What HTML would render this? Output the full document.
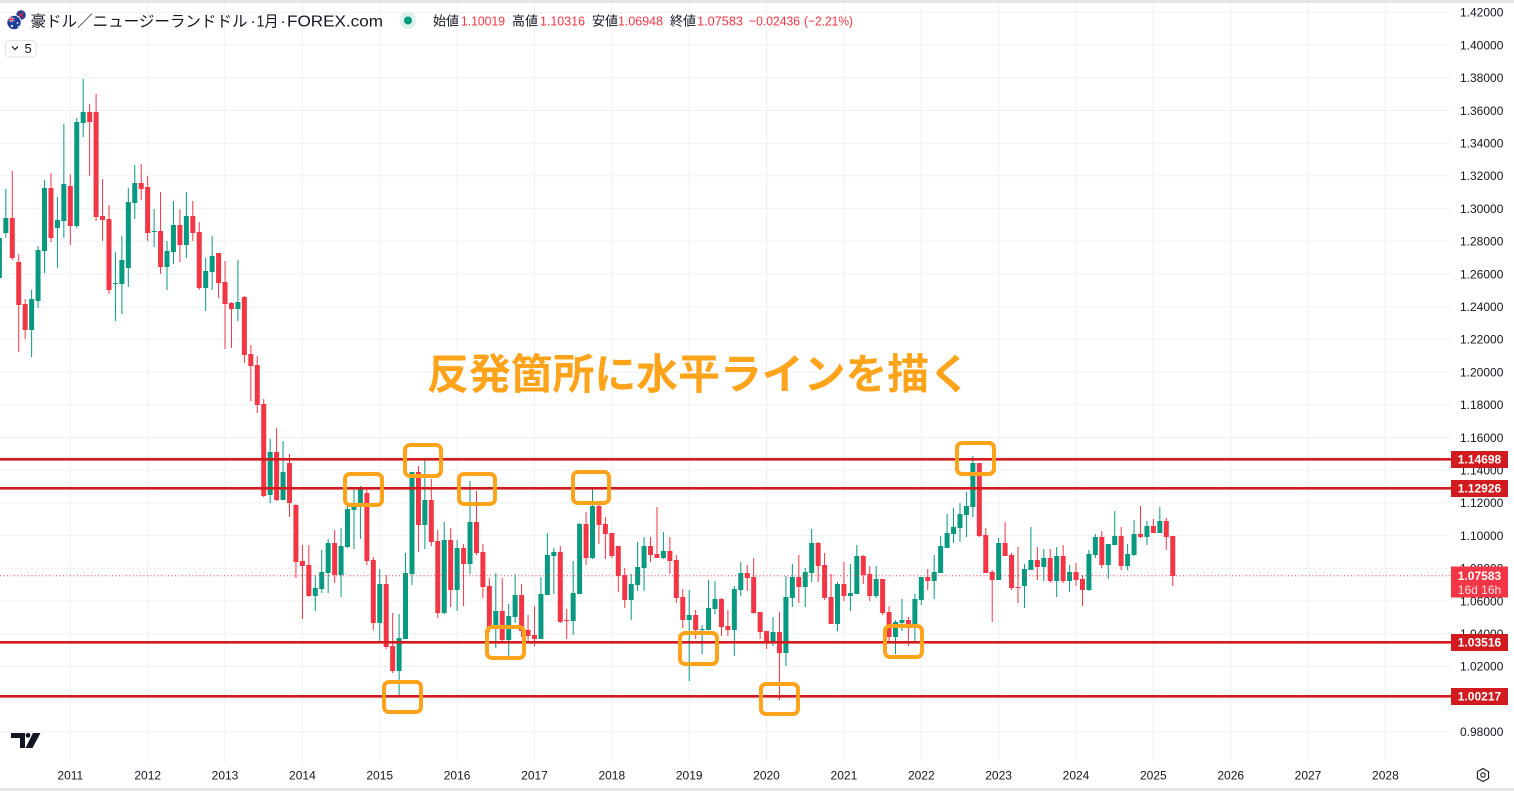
<!DOCTYPE html>
<html><head><meta charset="utf-8">
<style>
html,body{margin:0;padding:0;background:#fff;}
body{width:1514px;height:791px;overflow:hidden;position:relative;}
svg{position:absolute;left:0;top:0;}
</style></head>
<body>
<svg id="c" width="1514" height="791" viewBox="0 0 1514 791" xmlns="http://www.w3.org/2000/svg" font-family="'Liberation Sans','Noto Sans CJK JP',sans-serif">
<rect x="0" y="0" width="1514" height="791" fill="#ffffff"/>
<rect x="0" y="0" width="1514" height="3" fill="#e3e5ea"/>
<rect x="0" y="788" width="1514" height="3" fill="#e3e5ea"/>
<g id="grid" stroke="#eef0f3" stroke-width="1"></g>
<g id="candles"></g>
<line x1="0" y1="575.7" x2="1451" y2="575.7" stroke="#f23645" stroke-width="1" stroke-dasharray="1 2.5"/>
<g stroke="#d11b1f" stroke-width="2.6">
<line x1="0" y1="459.3" x2="1451" y2="459.3"/>
<line x1="0" y1="488.3" x2="1451" y2="488.3"/>
<line x1="0" y1="642.3" x2="1451" y2="642.3"/>
<line x1="0" y1="696.3" x2="1451" y2="696.3"/>
</g>
<g fill="none" stroke="#ffa31a" stroke-width="4">
<rect x="345" y="474" width="37" height="31" rx="5"/>
<rect x="405" y="445" width="36" height="31" rx="5"/>
<rect x="459" y="474" width="36" height="30" rx="5"/>
<rect x="573" y="472" width="36" height="31" rx="5"/>
<rect x="957" y="443" width="37" height="31" rx="5"/>
<rect x="487" y="627" width="37" height="31" rx="5"/>
<rect x="680" y="633" width="37" height="31" rx="5"/>
<rect x="885" y="626" width="37" height="31" rx="5"/>
<rect x="384" y="682" width="37" height="30" rx="5"/>
<rect x="761" y="684" width="37" height="30" rx="5"/>
</g>
<text x="427" y="389" font-size="42" font-weight="bold" fill="#ffa31a" font-family="'Liberation Sans','Noto Sans CJK JP',sans-serif" textLength="544" lengthAdjust="spacing">反発箇所に水平ラインを描く</text>

<g id="axis" font-size="12" fill="#131722"></g>

<g font-size="12" fill="#131722" text-anchor="middle">
<text x="70.3" y="779.5">2011</text>
<text x="147.7" y="779.5">2012</text>
<text x="225" y="779.5">2013</text>
<text x="302.4" y="779.5">2014</text>
<text x="379.7" y="779.5">2015</text>
<text x="457.1" y="779.5">2016</text>
<text x="534.5" y="779.5">2017</text>
<text x="611.8" y="779.5">2018</text>
<text x="689.2" y="779.5">2019</text>
<text x="766.5" y="779.5">2020</text>
<text x="843.9" y="779.5">2021</text>
<text x="921.3" y="779.5">2022</text>
<text x="998.6" y="779.5">2023</text>
<text x="1076" y="779.5">2024</text>
<text x="1153.3" y="779.5">2025</text>
<text x="1230.7" y="779.5">2026</text>
<text x="1308" y="779.5">2027</text>
<text x="1385.4" y="779.5">2028</text>
</g>

<!-- level labels -->
<g font-size="12" font-weight="bold" fill="#ffffff" text-anchor="middle">
<rect x="1451" y="451" width="57" height="17" fill="#d11b1f"/>
<text x="1479.5" y="463.5">1.14698</text>
<rect x="1451" y="480" width="57" height="17" fill="#d11b1f"/>
<text x="1479.5" y="492.5">1.12926</text>
<rect x="1451" y="634" width="57" height="17" fill="#d11b1f"/>
<text x="1479.5" y="646.5">1.03516</text>
<rect x="1451" y="688" width="57" height="17" fill="#d11b1f"/>
<text x="1479.5" y="700.5">1.00217</text>
<rect x="1451" y="566.5" width="57" height="31" fill="#f23645"/>
<text x="1479.5" y="580">1.07583</text>
<text x="1479.5" y="594" font-weight="normal" fill="#ffe3e6">16d 16h</text>
</g>

<!-- header -->
<circle cx="21" cy="15" r="4.8" fill="#1d3b8f"/>
<path d="M18.5 12.5 L23.5 17.5 M23.5 12.5 L18.5 17.5" stroke="#e8283a" stroke-width="1"/>
<circle cx="14" cy="22.5" r="7.2" fill="#1f3f99" stroke="#ffffff" stroke-width="1"/>
<path d="M8.5 19.5 H14.5 M11.5 16.8 V22.3" stroke="#ffffff" stroke-width="2"/>
<path d="M8.5 19.5 H14.5 M11.5 16.8 V22.3" stroke="#e8283a" stroke-width="0.9"/>
<circle cx="12" cy="26" r="1.1" fill="#fff"/>
<circle cx="17.5" cy="23" r="0.9" fill="#fff"/>
<circle cx="18.5" cy="26.5" r="0.8" fill="#fff"/>

<g fill="#131722">
<text x="30.5" y="26.3" font-size="15.5" textLength="217" lengthAdjust="spacingAndGlyphs">豪ドル／ニュージーランドドル</text>
<text x="250.5" y="26.3" font-size="15.5">·</text>
<text x="256.5" y="26.3" font-size="15.5" textLength="22" lengthAdjust="spacingAndGlyphs">1月</text>
<text x="280.5" y="26.3" font-size="15.5">·</text>
<text x="287" y="26.5" font-size="16" textLength="96" lengthAdjust="spacingAndGlyphs">FOREX.com</text>
</g>
<circle cx="408" cy="20.5" r="8.5" fill="#089981" fill-opacity="0.13"/>
<circle cx="408" cy="20.5" r="4" fill="#089981"/>
<g font-size="13">
<text x="433" y="25.5" fill="#131722" textLength="26">始値</text>
<text x="461" y="25.5" fill="#f23645" textLength="44" lengthAdjust="spacingAndGlyphs">1.10019</text>
<text x="512" y="25.5" fill="#131722" textLength="26">高値</text>
<text x="540" y="25.5" fill="#f23645" textLength="45" lengthAdjust="spacingAndGlyphs">1.10316</text>
<text x="592" y="25.5" fill="#131722" textLength="26">安値</text>
<text x="618" y="25.5" fill="#f23645" textLength="45" lengthAdjust="spacingAndGlyphs">1.06948</text>
<text x="670" y="25.5" fill="#131722" textLength="26">終値</text>
<text x="697" y="25.5" fill="#f23645" textLength="46" lengthAdjust="spacingAndGlyphs">1.07583</text>
<text x="749" y="25.5" fill="#f23645" textLength="51" lengthAdjust="spacingAndGlyphs">−0.02436</text>
<text x="804" y="25.5" fill="#f23645" textLength="49" lengthAdjust="spacingAndGlyphs">(−2.21%)</text>
</g>
<rect x="5.5" y="40.5" width="30.5" height="16.5" rx="4" fill="#fff" stroke="#e0e3eb" stroke-width="1"/>
<polyline points="12,46.5 15,49.5 18,46.5" fill="none" stroke="#131722" stroke-width="1.2"/>
<text x="24.5" y="53" font-size="13" fill="#131722">5</text>

<!-- TV logo -->
<path d="M11 733 H25 V748 H20 V738 H11 Z" fill="#131722"/>
<circle cx="28" cy="735.3" r="2.4" fill="#131722"/>
<path d="M33 733 H40.5 L32.5 748 H25.5 Z" fill="#131722"/>

<!-- settings icon -->
<polygon points="1483,768.5 1488.6,771.7 1488.6,778.3 1483,781.5 1477.4,778.3 1477.4,771.7" fill="none" stroke="#131722" stroke-width="1.1"/>
<circle cx="1483" cy="775" r="2.2" fill="none" stroke="#131722" stroke-width="1.1"/>
</svg>
<script>
(function(){
var NS="http://www.w3.org/2000/svg";
var grid=document.getElementById('grid');
function ln(p,x1,y1,x2,y2){var l=document.createElementNS(NS,'line');l.setAttribute('x1',x1);l.setAttribute('y1',y1);l.setAttribute('x2',x2);l.setAttribute('y2',y2);p.appendChild(l);}
function Y(p){return 12.4+(1.42-p)*1635;}
for(var k=0;k<=22;k++){var p=1.42-0.02*k;var y=Y(p);ln(grid,0,y,1451,y);}
for(var k=0;k<18;k++){var x=70.3+77.36*k;ln(grid,x,3,x,762);}
var ax=document.getElementById('axis');
for(var k=0;k<=22;k++){var p=1.42-0.02*k;var t=document.createElementNS(NS,'text');t.setAttribute('x',1460);t.setAttribute('y',(Y(p)+4.3).toFixed(1));t.textContent=p.toFixed(5);ax.appendChild(t);}
var D=[
[-11,1,238,278,230,285],[-10,1,218,233,189,238],[-9,0,218,258,171,260],[-8,0,262,305,254,352],[-7,0,304,330,299,339],[-6,1,299,330,290,357],[-5,1,250,301,246,308],[-4,1,188,251,180,273],[-3,0,188,238,173,242],[-2,1,220,228,197,268],[-1,1,184,221,124,238],
[0,0,186,226,174,245],[1,1,122,226,118,228],[2,1,112,123,79,137],[3,0,112,122,104,176],[4,0,112,217,94,221],[5,0,216,220,179,241],[6,0,219,290,205,294],[7,1,283,284,252,321],[8,1,260,284,236,314],[9,1,202,268,188,287],[10,1,183,203,165,219],[11,0,183,189,164,200],
[12,0,187,233,176,241],[13,1,231,232,209,247],[14,0,231,267,192,274],[15,1,251,267,241,290],[16,1,225,252,201,264],[17,0,225,245,209,262],[18,1,216,245,192,258],[19,0,216,233,201,241],[20,0,232,288,222,290],[21,1,271,288,258,311],[22,1,256,272,236,290],[23,0,253,283,253,298],
[24,0,282,304,261,349],[25,0,303,309,302,348],[26,1,302,309,260,321],[27,0,297,355,296,363],[28,0,354,366,345,401],[29,0,365,405,356,413],[30,0,404,496,399,497],[31,1,452,495,439,503],[32,0,452,500,428,501],[33,1,472,500,441,500],[34,0,463,503,454,517],[35,0,505,562,504,578],
[36,0,561,566,545,619],[37,0,565,596,545,597],[38,1,588,596,575,611],[39,1,572,589,550,593],[40,1,543,573,539,593],[41,0,543,575,530,583],[42,1,546,575,528,597],[43,1,509,547,503,548],[44,1,503,510,487,549],[45,1,488,504,486,539],[46,0,493,561,489,565],[47,0,560,623,557,630],
[48,1,584,623,569,642],[49,0,584,647,575,649],[50,0,646,671,613,673],[51,1,638,671,614,696],[52,1,573,639,553,639],[53,1,472,574,472,585],[54,0,472,525,466,552],[55,1,500,525,458,549],[56,0,500,542,479,546],[57,0,541,613,530,618],[58,1,540,613,522,614],[59,0,540,590,528,607],
[60,1,548,590,540,611],[61,0,548,564,544,606],[62,1,522,564,481,574],[63,0,522,553,491,555],[64,0,552,587,544,598],[65,0,586,627,578,632],[66,1,611,627,573,648],[67,0,611,640,578,642],[68,1,616,640,604,657],[69,1,595,617,574,623],[70,0,595,631,584,637],[71,0,630,636,615,641],
[72,0,635,639,606,646],[73,1,594,639,577,639],[74,1,555,595,533,595],[75,1,552,556,548,594],[76,0,552,622,546,623],[77,0,620,621,609,639],[78,1,593,621,561,635],[79,1,524,594,523,594],[80,0,524,558,512,565],[81,1,506,558,488,559],[82,0,506,525,503,544],[83,0,524,534,517,559],
[84,0,533,556,533,558],[85,0,546,576,546,592],[86,0,575,600,568,608],[87,1,584,600,574,620],[88,1,567,585,542,591],[89,1,546,568,537,591],[90,0,546,555,537,562],[91,0,554,558,507,558],[92,1,551,558,532,559],[93,0,551,561,537,574],[94,0,560,598,555,603],[95,0,597,620,589,628],
[96,1,615,620,590,681],[97,0,615,630,610,639],[98,1,629,630,625,654],[99,1,608,630,580,630],[100,1,599,609,581,614],[101,0,599,627,598,636],[102,0,626,630,610,636],[103,1,589,630,586,656],[104,1,573,590,562,596],[105,0,573,578,565,591],[106,0,577,613,558,614],[107,0,612,632,612,639],
[108,0,631,642,631,649],[109,1,632,643,617,646],[110,0,632,653,612,700],[111,1,597,653,576,666],[112,1,577,598,564,607],[113,0,577,587,555,603],[114,1,572,587,568,607],[115,1,543,573,529,582],[116,0,543,566,542,582],[117,0,565,598,553,600],[118,0,597,624,574,624],[119,1,584,624,582,631],
[120,0,584,596,562,601],[121,1,593,596,564,611],[122,1,556,594,545,594],[123,0,556,575,555,584],[124,0,574,596,566,601],[125,1,579,596,566,598],[126,0,579,613,579,615],[127,0,612,637,606,643],[128,1,622,637,620,654],[129,1,620,623,599,631],[130,0,620,627,617,646],[131,1,599,627,594,642],
[132,1,577,600,577,605],[133,0,577,581,569,590],[134,1,572,581,555,599],[135,1,546,573,536,573],[136,1,533,548,514,548],[137,1,527,534,508,543],[138,1,514,528,503,542],[139,1,506,515,492,537],[140,1,463,507,456,517],[141,0,463,536,463,537],[142,0,535,573,528,573],[143,0,572,580,570,622],
[144,1,543,580,538,580],[145,0,543,556,522,556],[146,0,555,588,553,590],[147,0,587,588,547,603],[148,1,569,586,564,608],[149,1,560,570,527,570],[150,0,560,567,547,580],[151,1,558,567,549,581],[152,0,558,581,549,583],[153,1,556,581,547,597],[154,0,556,581,545,583],[155,1,572,581,565,592],
[156,0,572,580,563,586],[157,0,579,590,575,606],[158,1,554,590,550,591],[159,1,537,555,534,558],[160,0,537,565,531,568],[161,1,544,565,544,579],[162,1,536,545,511,545],[163,0,536,566,527,570],[164,1,554,566,544,570],[165,1,534,555,520,556],[166,0,534,537,506,538],[167,1,526,537,521,545],
[168,0,526,533,519,533],[169,1,521,533,507,533],[170,0,521,537,518,550],[171,0,536,576,536,586]
];
var g=document.getElementById('candles');
D.forEach(function(d){
 var x=70.3+d[0]*6.447;var col=d[1]?'#089981':'#f23645';
 var w=document.createElementNS(NS,'rect');
 w.setAttribute('x',(x-0.5).toFixed(2));w.setAttribute('y',d[4]);w.setAttribute('width',1);w.setAttribute('height',Math.max(1,d[5]-d[4]));w.setAttribute('fill',col);g.appendChild(w);
 var b=document.createElementNS(NS,'rect');
 b.setAttribute('x',(x-2.5).toFixed(2));b.setAttribute('y',d[2]);b.setAttribute('width',5);b.setAttribute('height',Math.max(1,d[3]-d[2]));b.setAttribute('fill',col);g.appendChild(b);
});
})();
</script>
</body></html>
